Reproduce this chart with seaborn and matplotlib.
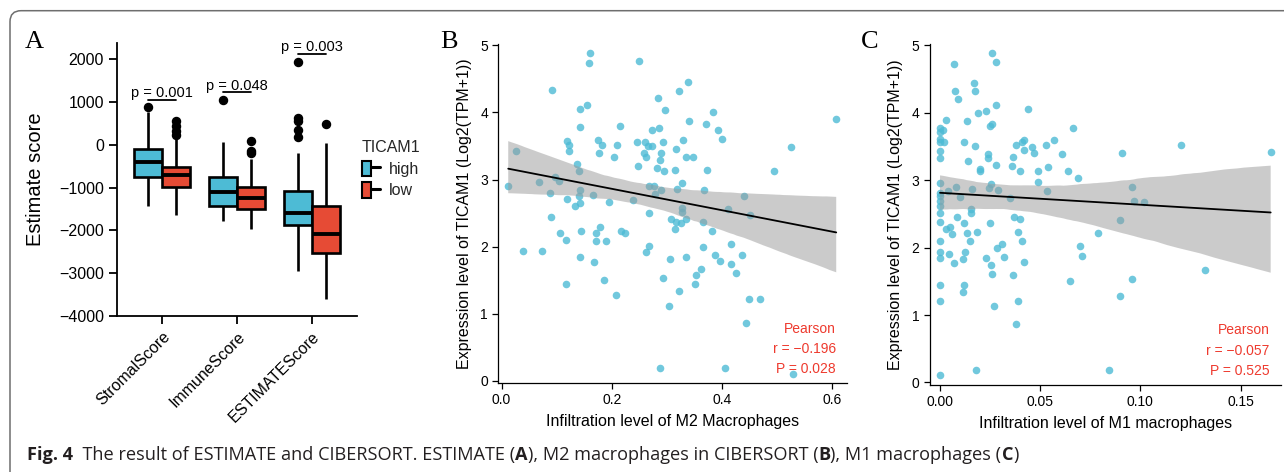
import numpy as np
import pandas as pd
import matplotlib
matplotlib.use("Agg")
import matplotlib.pyplot as plt
import seaborn as sns
from matplotlib.lines import Line2D
from matplotlib.patches import Patch, PathPatch
from matplotlib.path import Path
from matplotlib.legend_handler import HandlerTuple
from matplotlib.collections import PolyCollection

# ---------------- data: panel A (box statistics) ----------------
categories = ["StromalScore", "ImmuneScore", "ESTIMATEScore"]
groups = ["high", "low"]

q1_high = [-750, -1442, -1886]
med_high = [-413, -1107, -1598]
q3_high = [-110, -764, -1076]
whislo_high = [-1440, -1777, -2938]
whishi_high = [770, 55, -195]
outliers_high = [[890], [1052], [1933, 624, 561, 335, 170]]

q1_low = [-998, -1496, -2533]
med_low = [-717, -1247, -2089]
q3_low = [-522, -990, -1442]
whislo_low = [-1637, -1972, -3601]
whishi_low = [180, -330, 39]
outliers_low = [[234, 310, 430, 545], [78, -150, -190], [491]]

pval_text = ["p = 0.001", "p = 0.048", "p = 0.003"]
pval_y = [1050, 1225, 2120]

# ---------------- data: panel B (M2 macrophages) ----------------
m2_x = [0.012, 0.026, 0.038, 0.068, 0.073, 0.088, 0.091, 0.089, 0.097, 0.105,
        0.106, 0.116, 0.117, 0.118, 0.119, 0.123, 0.122, 0.134, 0.136, 0.141,
        0.142, 0.140, 0.142, 0.142, 0.144, 0.143, 0.143, 0.154, 0.159, 0.160,
        0.166, 0.168, 0.172, 0.171, 0.174, 0.177, 0.178, 0.183, 0.185, 0.189,
        0.195, 0.204, 0.207, 0.210, 0.214, 0.216, 0.224, 0.238, 0.245, 0.247,
        0.250, 0.258, 0.260, 0.262, 0.262, 0.266, 0.267, 0.267, 0.268, 0.272,
        0.272, 0.276, 0.279, 0.281, 0.283, 0.286, 0.287, 0.288, 0.290, 0.290,
        0.292, 0.292, 0.295, 0.296, 0.304, 0.305, 0.307, 0.314, 0.315, 0.317,
        0.318, 0.316, 0.321, 0.321, 0.325, 0.327, 0.327, 0.328, 0.329, 0.334,
        0.334, 0.335, 0.338, 0.340, 0.348, 0.351, 0.353, 0.361, 0.365, 0.366,
        0.368, 0.370, 0.372, 0.381, 0.384, 0.388, 0.392, 0.396, 0.399, 0.405,
        0.410, 0.417, 0.417, 0.426, 0.436, 0.439, 0.444, 0.448, 0.451, 0.468,
        0.495, 0.525, 0.529, 0.607]
m2_y = [2.90, 3.42, 1.94, 2.96, 1.93, 2.80, 4.33, 2.45, 3.04, 2.98,
        2.21, 1.45, 2.10, 2.71, 3.57, 3.52, 3.43, 2.61, 3.23, 3.13,
        2.84, 2.75, 2.65, 3.78, 2.24, 1.85, 4.05, 4.11, 4.73, 4.89,
        2.77, 1.77, 2.21, 2.09, 3.59, 3.40, 2.30, 3.51, 1.50, 2.09,
        2.67, 3.33, 1.28, 3.52, 3.80, 2.24, 2.20, 2.69, 3.56, 3.20,
        4.77, 3.40, 3.56, 3.34, 1.92, 3.50, 2.91, 2.01, 2.50, 3.74,
        3.50, 2.91, 2.78, 3.18, 4.22, 3.77, 0.19, 3.29, 3.40, 2.85,
        1.53, 3.56, 3.13, 4.03, 1.12, 1.82, 2.41, 2.26, 3.14, 3.46,
        2.86, 2.37, 4.32, 1.34, 2.36, 2.95, 2.51, 2.58, 3.59, 1.84,
        2.42, 3.33, 4.45, 3.88, 3.33, 1.45, 1.58, 1.67, 2.37, 2.00,
        2.84, 3.83, 3.15, 2.23, 4.00, 1.88, 3.74, 1.79, 3.61, 0.19,
        2.56, 2.04, 1.75, 1.61, 1.87, 2.75, 0.86, 1.22, 2.47, 1.22,
        3.13, 3.48, 0.11, 3.90]
m2_stats = ["Pearson", "r = \u22120.196", "P = 0.028"]

# ---------------- data: panel C (M1 macrophages) ----------------
m1_x = [0.0, 0.0, 0.0, 0.0, 0.0, 0.0, 0.0, 0.0, 0.0, 0.0,
        0.0, 0.0, 0.0, 0.0, 0.0, 0.0, 0.0, 0.0, 0.0,
        0.0017, 0.002, 0.003, 0.004, 0.003, 0.005, 0.0047, 0.006, 0.007, 0.0071,
        0.0076, 0.0078, 0.0085, 0.009, 0.010, 0.0115, 0.0118, 0.012, 0.0116, 0.012,
        0.0123, 0.0136, 0.0136, 0.014, 0.015, 0.0153, 0.0153, 0.0158, 0.0168, 0.0173,
        0.0176, 0.0178, 0.0186, 0.019, 0.020, 0.020, 0.0228, 0.0229, 0.0239, 0.024,
        0.0244, 0.0247, 0.025, 0.0254, 0.0256, 0.0257, 0.026, 0.026, 0.0267, 0.028,
        0.028, 0.028, 0.0284, 0.029, 0.031, 0.032, 0.035, 0.036, 0.0364, 0.0365,
        0.0369, 0.0377, 0.038, 0.039, 0.039, 0.040, 0.040, 0.0407, 0.041, 0.042,
        0.042, 0.042, 0.044, 0.046, 0.047, 0.049, 0.049, 0.053, 0.0535, 0.054,
        0.057, 0.061, 0.064, 0.065, 0.0666, 0.069, 0.070, 0.071, 0.079, 0.0844,
        0.090, 0.090, 0.091, 0.0957, 0.0958, 0.097, 0.102, 0.120, 0.132, 0.165]
m1_y = [3.77, 3.72, 3.61, 3.56, 3.43, 3.33, 2.96, 2.81, 2.76, 2.69,
        2.62, 2.52, 2.38, 2.10, 1.94, 1.85, 1.45, 1.21, 0.11,
        3.75, 3.56, 3.89, 2.84, 2.27, 2.30, 1.90, 2.20, 1.77, 4.73,
        4.33, 2.90, 2.45, 4.21, 2.75, 1.83, 3.56, 1.45, 1.34, 2.37,
        1.94, 3.88, 2.22, 3.28, 2.10, 2.58, 2.51, 2.87, 4.44, 3.50,
        4.33, 0.19, 2.23, 3.99, 3.16, 3.13, 4.03, 1.84, 3.39, 3.33,
        2.89, 2.36, 3.80, 1.74, 2.94, 3.83, 4.89, 1.61, 1.13, 3.22,
        4.11, 4.76, 2.00, 2.85, 2.05, 1.86, 2.74, 3.21, 3.34, 1.59,
        2.46, 0.86, 3.52, 2.23, 1.21, 3.13, 2.43, 3.56, 2.10, 3.59,
        3.45, 1.78, 4.05, 3.49, 3.40, 3.13, 2.98, 3.52, 2.84, 3.19,
        3.59, 3.39, 3.14, 1.50, 3.77, 3.03, 2.02, 1.88, 2.21, 0.19,
        2.41, 1.28, 3.40, 2.90, 1.53, 2.69, 2.67, 3.52, 1.67, 3.42]
m1_stats = ["Pearson", "r = \u22120.057", "P = 0.525"]

# ---------------- style ----------------
BLUE = "#4DBBD5"
RED = "#E64B35"
TXT_RED = "#EE3A2E"

sns.set_theme(style="ticks")
plt.rcParams["font.family"] = ["Liberation Sans", "DejaVu Sans"]

W, H = 1284, 472
fig = plt.figure(figsize=(W / 100, H / 100), dpi=100)


def ax_px(l, r, t, b):
    return fig.add_axes([l / W, 1 - b / H, (r - l) / W, (b - t) / H])


# ---------------- panel A ----------------
def box_sample(lo, q1, med, q3, upper):
    k = max(len(lo), len(upper))
    lo = list(lo) + [q1] * (k - len(lo))
    upper = list(upper) + [q3] * (k - len(upper))
    return lo + [q1] + [med] * (2 * k - 1) + [q3] + upper


rows = []
for i, cat in enumerate(categories):
    for g, (q1, md, q3, wl, wh, out) in {
        "high": (q1_high, med_high, q3_high, whislo_high, whishi_high, outliers_high),
        "low": (q1_low, med_low, q3_low, whislo_low, whishi_low, outliers_low),
    }.items():
        vals = box_sample([wl[i]], q1[i], md[i], q3[i], [wh[i]] + out[i])
        rows += [(cat, g, v) for v in vals]
dfA = pd.DataFrame(rows, columns=["category", "TICAM1", "value"])

axA = ax_px(117.3, 357, 43, 316)
sns.boxplot(data=dfA, x="category", y="value", hue="TICAM1", order=categories,
            hue_order=groups, palette=[BLUE, RED], saturation=1, width=0.75, gap=0,
            linewidth=1.9, linecolor="black", showcaps=False,
            flierprops=dict(marker="o", markersize=5.8, markerfacecolor="black",
                            markeredgecolor="black"),
            medianprops=dict(linewidth=2.8, color="black"),
            legend=False, ax=axA)
axA.set_xlim(-0.6, 2.6)
axA.set_ylim(-4000, 2374)
axA.set_yticks(range(-4000, 2001, 1000))
axA.set_xticks(range(len(categories)))
axA.set_xticklabels(categories, rotation=45, ha="right", rotation_mode="anchor")
axA.tick_params(axis="both", labelsize=11.5, length=6, width=1.3, color="black",
                labelcolor="black")
for s in ["top", "right"]:
    axA.spines[s].set_visible(False)
for s in ["left", "bottom"]:
    axA.spines[s].set_linewidth(1.3)
    axA.spines[s].set_color("black")
axA.set_xlabel("")
axA.set_ylabel("Estimate score", fontsize=14.5, color="black")
axA.yaxis.set_label_coords(-0.30, 0.5)

for i, (txt, y) in enumerate(zip(pval_text, pval_y)):
    axA.plot([i - 0.185, i + 0.185], [y, y], color="black", lw=1.3)
    axA.text(i, y + 60, txt, ha="center", va="baseline", fontsize=10.5, color="black")

handles = [(Patch(facecolor=c, edgecolor="black", linewidth=1.5),
            Line2D([], [], color="black", lw=2.2)) for c in [BLUE, RED]]
fig.legend(handles, groups, title="TICAM1", loc="upper left",
           bbox_to_anchor=(362 / W, 1 - 140 / H), frameon=False,
           handler_map={tuple: HandlerTuple(ndivide=None)},
           handlelength=1.1, handleheight=1.1, handletextpad=0.6,
           labelspacing=0.35, borderaxespad=0, borderpad=0,
           alignment="left", fontsize=11.5, title_fontsize=11.5)


# ---------------- panels B & C ----------------
def scatter_panel(ax, x, y, xlim, xticks, xticklabels, xlabel, stats, seed):
    sns.regplot(x=np.array(x), y=np.array(y), ax=ax, color="black", ci=95, seed=seed,
                scatter_kws=dict(s=30, color=BLUE, alpha=0.8, linewidths=0),
                line_kws=dict(color="black", lw=1.3))
    for coll in ax.collections:
        if isinstance(coll, PolyCollection):
            coll.set_facecolor((0.6, 0.6, 0.6))
            coll.set_alpha(0.5)
            coll.set_edgecolor("none")
    ax.set_xlim(*xlim)
    ax.set_ylim(-0.03, 5.02)
    ax.set_xticks(xticks)
    ax.set_xticklabels(xticklabels)
    ax.set_yticks(range(0, 6))
    ax.tick_params(axis="both", labelsize=10, length=4, width=0.9, color="black",
                   labelcolor="black")
    for s in ["top", "right"]:
        ax.spines[s].set_visible(False)
    for s in ["left", "bottom"]:
        ax.spines[s].set_linewidth(0.9)
        ax.spines[s].set_color("black")
    ax.set_xlabel(xlabel, fontsize=11.5, color="black", labelpad=5)
    ax.set_ylabel("Expression level of TICAM1 (Log2(TPM+1))", fontsize=11.5,
                  color="black", labelpad=6)
    for j, (t, yy) in enumerate(zip(stats, [0.159, 0.099, 0.040])):
        ax.text(0.969, yy, t, transform=ax.transAxes, ha="right", va="center",
                fontsize=10, color=TXT_RED)


axB = ax_px(498.3, 846.7, 44, 383)
scatter_panel(axB, m2_x, m2_y, (-0.006, 0.626), [0, 0.2, 0.4, 0.6],
              ["0.0", "0.2", "0.4", "0.6"], "Infiltration level of M2 Macrophages",
              m2_stats, 11)

axC = ax_px(930, 1280.7, 44, 384.5)
scatter_panel(axC, m1_x, m1_y, (-0.005, 0.170), [0, 0.05, 0.10, 0.15],
              ["0.00", "0.05", "0.10", "0.15"], "Infiltration level of M1 macrophages",
              m1_stats, 7)

# ---------------- panel letters ----------------
for lab, xp in [("A", 25), ("B", 440), ("C", 861)]:
    fig.text(xp / W, 1 - 48 / H, lab, family=["Liberation Serif", "DejaVu Serif"],
             fontsize=19, ha="left", va="baseline", color="black")

# ---------------- frame ----------------
r = 11
verts = [(10, H + 2), (10, 10.7 + r), (10, 10.7), (10 + r, 10.7), (W + 2, 10.7)]
codes = [Path.MOVETO, Path.LINETO, Path.CURVE3, Path.CURVE3, Path.LINETO]
verts_f = [(vx / W, 1 - vy / H) for vx, vy in verts]
fig.add_artist(PathPatch(Path(verts_f, codes), transform=fig.transFigure,
                         facecolor="none", edgecolor="#6e6e6e", lw=1.1))

# ---------------- caption ----------------
pieces = [("Fig. 4", "bold"), ("  The result of ESTIMATE and CIBERSORT. ESTIMATE (", "normal"),
          ("A", "bold"), ("), M2 macrophages in CIBERSORT (", "normal"), ("B", "bold"),
          ("), M1 macrophages (", "normal"), ("C", "bold"), (")", "normal")]
cap_font = ["Open Sans", "DejaVu Sans"]
cap_x0, cap_x1 = 27, 1017
cap_texts = [fig.text(0, 0, txt, fontsize=12, weight=wt, family=cap_font,
                      ha="left", va="baseline", color="#231f20")
             for txt, wt in pieces]
fig.canvas.draw()
renderer = fig.canvas.get_renderer()
total = sum(t.get_window_extent(renderer).width for t in cap_texts)
size = 12 * (cap_x1 - cap_x0) / total
for t in cap_texts:
    t.set_fontsize(size)
fig.canvas.draw()
x_cur = cap_x0
for t in cap_texts:
    t.set_position((x_cur / W, 1 - 460 / H))
    x_cur += t.get_window_extent(renderer).width

fig.savefig("out.png", dpi=100)
